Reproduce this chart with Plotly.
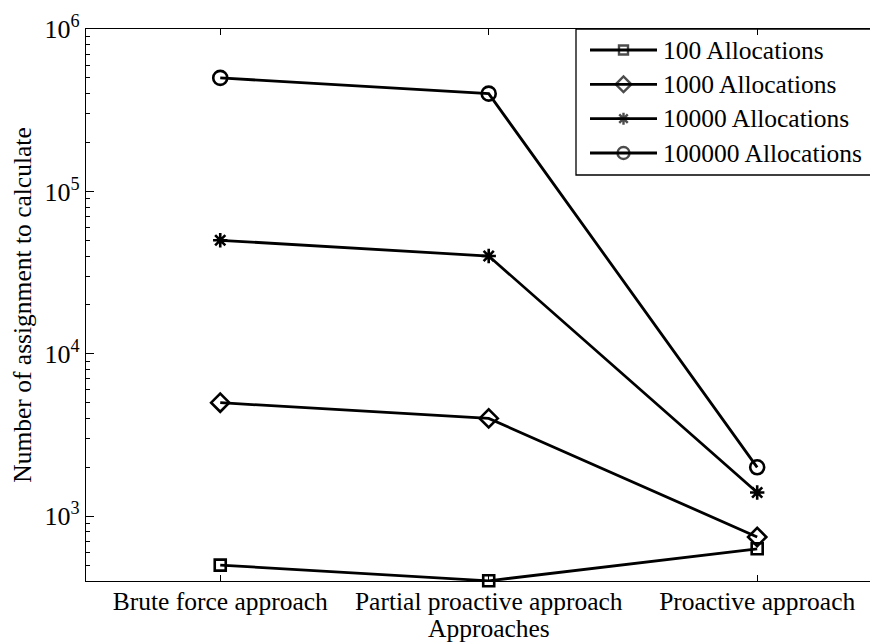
import plotly.graph_objects as go
import numpy as np

# ---- data ----
categories = ["Brute force approach", "Partial proactive approach", "Proactive approach"]
cat_pos = [1, 2, 3]
series_names = ["100 Allocations", "1000 Allocations", "10000 Allocations", "100000 Allocations"]
alloc_100 = [500, 400, 630]
alloc_1000 = [5000, 4000, 745]
alloc_10000 = [50000, 40000, 1400]
alloc_100000 = [500000, 400000, 2000]
ytick_vals = [1e3, 1e4, 1e5, 1e6]
ytick_text = ["10<sup>3</sup>", "10<sup>4</sup>", "10<sup>5</sup>", "10<sup>6</sup>"]
x_title = "Approaches"
y_title = "Number of assignment to calculate"

series_values = [alloc_100, alloc_1000, alloc_10000, alloc_100000]
symbols = ["square-open", "diamond-open", "asterisk-open", "circle-open"]
sizes = [11, 14, 12, 14]

FONT = "Liberation Serif"
OFF = 8  # page body margin
W, H = 870, 636
L, R, T, B = 78, 0, 21, 63
PLOT_H = H - T - B

fig = go.Figure()
for name, vals, sym, sz in zip(series_names, series_values, symbols, sizes):
    fig.add_trace(go.Scatter(
        x=cat_pos, y=vals, mode="lines+markers", name=name,
        line=dict(color="black", width=2.8),
        marker=dict(symbol=sym, size=sz, color="black",
                    line=dict(color="black", width=2.6)),
        showlegend=False, cliponaxis=False,
    ))

# ---- manual legend on an overlay axis in window pixels ----
leg_x0, leg_x1, leg_mid, text_x = 590, 657, 623.5, 661
leg_rows = [50, 84.3, 118.7, 153]
for name, sym, sz, yy in zip(series_names, symbols, sizes, leg_rows):
    fig.add_trace(go.Scatter(
        x=[leg_x0, leg_mid, leg_x1], y=[yy, yy, yy], mode="lines+markers",
        xaxis="x2", yaxis="y2",
        line=dict(color="black", width=2.8),
        marker=dict(symbol=sym, size=[0, sz - 2, 0], color="black",
                    line=dict(color="black", width=2.4)),
        showlegend=False, hoverinfo="skip", cliponaxis=False,
    ))
    fig.add_annotation(x=text_x, y=yy, xref="x2", yref="y2", text=name,
                       showarrow=False, xanchor="left", yanchor="middle",
                       font=dict(family=FONT, size=25.5, color="black"))

fig.add_shape(type="rect", xref="x2", yref="y2", x0=576, x1=950, y0=29, y1=175,
              line=dict(color="black", width=1.3), fillcolor="rgba(0,0,0,0)")

# x-axis title centred on the middle category (as in the reference)
fig.add_annotation(x=cat_pos[1], y=-(628 - (H - B + OFF)) / PLOT_H, xref="x", yref="paper",
                   text=x_title, showarrow=False, xanchor="center", yanchor="middle",
                   font=dict(family=FONT, size=25.5, color="black"))

minor_vals = [v * m for v in [100, 1000, 10000, 100000] for m in range(2, 10)]

fig.update_layout(
    width=W, height=H,
    margin=dict(l=L, r=R, t=T, b=B, autoexpand=False),
    paper_bgcolor="white", plot_bgcolor="white",
    font=dict(family=FONT, size=25, color="black"),
    showlegend=False,
    xaxis=dict(
        range=[0.5, 3.45], tickvals=cat_pos, ticktext=categories,
        ticks="inside", ticklen=6, tickwidth=1.3, tickcolor="black",
        showline=True, linecolor="black", linewidth=1.3, mirror="ticks",
        showgrid=False, zeroline=False, ticklabelstandoff=-3,
        tickfont=dict(family=FONT, size=25.5, color="black"),
    ),
    yaxis=dict(
        type="log", range=[np.log10(399), 6],
        tickvals=ytick_vals, ticktext=ytick_text,
        ticks="inside", ticklen=8, tickwidth=1.3, tickcolor="black",
        minor=dict(tickvals=minor_vals, ticks="inside", ticklen=4, tickwidth=1.2, tickcolor="black", showgrid=False),
        showline=True, linecolor="black", linewidth=1.3, mirror=False,
        showgrid=False, zeroline=False,
        tickfont=dict(family=FONT, size=26, color="black"),
        title=dict(text=y_title, font=dict(family=FONT, size=25.5, color="black"), standoff=24),
    ),
    xaxis2=dict(range=[L + OFF, W - R + OFF], overlaying="x", visible=False,
                showticklabels=False, fixedrange=True),
    yaxis2=dict(range=[H - B + OFF, T + OFF], overlaying="y", visible=False,
                showticklabels=False, fixedrange=True),
)

fig.write_html("out.html")
